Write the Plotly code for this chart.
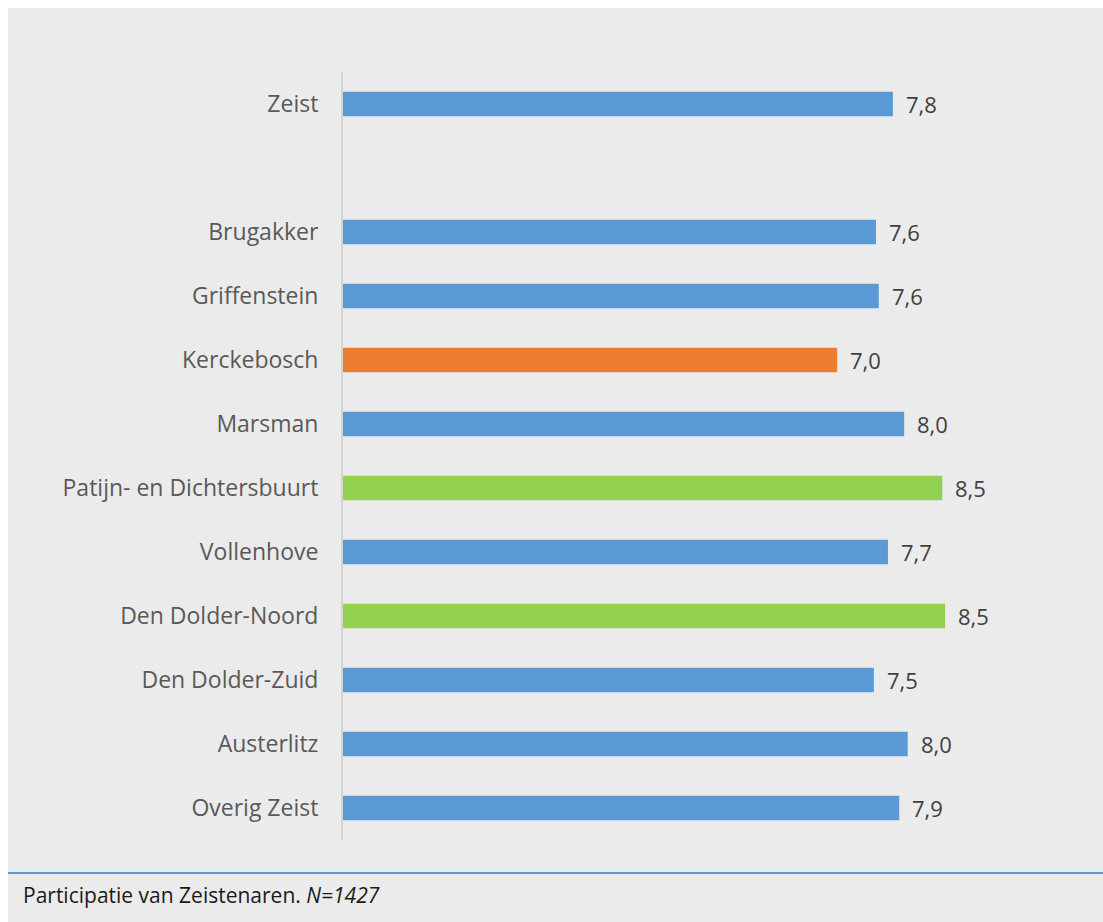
import plotly.graph_objects as go

categories = ["Zeist", " ", "Brugakker", "Griffenstein", "Kerckebosch", "Marsman",
              "Patijn- en Dichtersbuurt", "Vollenhove", "Den Dolder-Noord",
              "Den Dolder-Zuid", "Austerlitz", "Overig Zeist"]
values = [7.80, None, 7.56, 7.60, 7.01, 7.96, 8.50, 7.73, 8.54, 7.53, 8.01, 7.89]
value_labels = ["7,8", "", "7,6", "7,6", "7,0", "8,0", "8,5", "7,7", "8,5", "7,5", "8,0", "7,9"]
bar_colors = ["#5b9bd5", "#5b9bd5", "#5b9bd5", "#5b9bd5", "#ed7d31", "#5b9bd5",
              "#92d050", "#5b9bd5", "#92d050", "#5b9bd5", "#5b9bd5", "#5b9bd5"]
caption_text = "Participatie van Zeistenaren. <i>N=1427</i>"

W, H = 1103, 922
ML, MR, MT, MB = 343, 20, 72, 82
PW = W - ML - MR
PH = H - MT - MB
PX_PER_UNIT = 70.5

fig = go.Figure(go.Bar(
    y=categories, x=values, orientation="h",
    marker=dict(color=bar_colors, line=dict(width=0)),
    width=0.38, hoverinfo="x+y",
))

def px_x(p):
    return (p - ML) / PW

def px_y(p):
    return (H - MB - p) / PH

annotations = []
for cat, val, lab in zip(categories, values, value_labels):
    if val is None:
        continue
    annotations.append(dict(
        x=val, y=cat, xref="x", yref="y", text=lab, showarrow=False,
        xanchor="left", yanchor="middle", xshift=11,
        font=dict(family="Open Sans", size=22, color="#404040"),
    ))

annotations.append(dict(
    text=caption_text, xref="paper", yref="paper", x=px_x(21), y=px_y(895),
    xanchor="left", yanchor="middle", showarrow=False,
    font=dict(family="Open Sans", size=21, color="#1a1a1a"),
))

fig.update_layout(
    width=W, height=H,
    margin=dict(l=ML, r=MR, t=MT, b=MB),
    paper_bgcolor="#ebebeb", plot_bgcolor="#ebebeb",
    showlegend=False,
    xaxis=dict(range=[0, PW / PX_PER_UNIT], visible=False, fixedrange=True),
    yaxis=dict(autorange="reversed", showline=True, linecolor="#d4d4d4", linewidth=2,
               showgrid=False, zeroline=False, ticks="", ticklabelstandoff=18,
               tickfont=dict(family="Open Sans", size=23, color="#595959")),
    shapes=[
        dict(type="rect", xref="paper", yref="paper", x0=px_x(0), x1=px_x(W),
             y0=px_y(0), y1=px_y(8), fillcolor="white", line=dict(width=0), layer="above"),
        dict(type="rect", xref="paper", yref="paper", x0=px_x(0), x1=px_x(8),
             y0=px_y(0), y1=px_y(H), fillcolor="white", line=dict(width=0), layer="above"),
        dict(type="line", xref="paper", yref="paper", x0=px_x(8), x1=px_x(W),
             y0=px_y(873), y1=px_y(873), line=dict(color="#5b9bd5", width=2)),
    ],
    annotations=annotations,
)

fig.write_html("out.html", config={"displayModeBar": False},
               post_script="document.body.style.margin='0';document.body.style.overflow='hidden';")
